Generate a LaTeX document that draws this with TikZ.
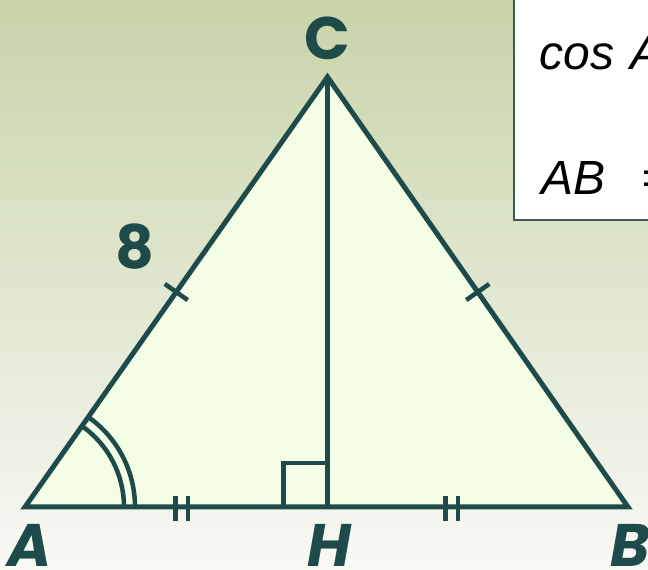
\documentclass[tikz,border=0pt]{standalone}
\usepackage{fontspec}
\setsansfont{Poppins}
\newfontfamily\boxfont{Liberation Sans}
\usetikzlibrary{calc}

\definecolor{edgecol}{HTML}{1E4A4A}
\definecolor{trifill}{HTML}{F4FDE6}
\definecolor{bgtop}{HTML}{C8D4A9}
\definecolor{bgmid}{HTML}{E4E6D5}
\definecolor{bgbot}{HTML}{F9F9F5}
\definecolor{boxline}{HTML}{3F5656}

\tikzset{
  side/.style={draw=edgecol,line width=5pt},
  tickline/.style={draw=edgecol,line width=4.5pt},
  vlabel/.style={text=edgecol,font=\sffamily\bfseries\fontsize{60}{60}\selectfont},
  boxtext/.style={anchor=base west,font=\boxfont\itshape\fontsize{48}{48}\selectfont}
}

\begin{document}
\begin{tikzpicture}[x=1pt,y=1pt]
\clip (0,0) rectangle (648,570);
\shade[top color=bgtop,middle color=bgmid,bottom color=bgbot] (0,0) rectangle (648,570);

% vertices
\coordinate (A) at (25,63);
\coordinate (B) at (628,63);
\coordinate (C) at (327.5,493);
\coordinate (H) at (327.5,63);

\fill[trifill] (A) -- (B) -- (C) -- cycle;

% angle at A
\draw[tickline] ($(A)+(99,0)$) arc[start angle=0,end angle=54.9,radius=99];
\draw[tickline] ($(A)+(110,0)$) arc[start angle=0,end angle=54.9,radius=110];

% right angle at H
\draw[tickline] ($(H)+(-44,0)$) |- ($(H)+(0,44)$);

% equal sides
\draw[tickline] ($(A)!0.5!(C)!14pt!90:(C)$) -- ($(A)!0.5!(C)!14pt!-90:(C)$);
\draw[tickline] ($(C)!0.5!(B)!14pt!90:(B)$) -- ($(C)!0.5!(B)!14pt!-90:(B)$);

% equal halves of the base
\foreach \x in {175.3,187.8,445.5,458}
    \draw[tickline] (\x,74) -- (\x,49);

\draw[side] (A) -- (B) -- (C) -- cycle;
\draw[side] (C) -- (H);

\node[vlabel] (lC) at (327,532) {C};
\node[vlabel] (l8) at (135,323) {8};
\node[vlabel,font=\sffamily\bfseries\itshape\fontsize{60}{60}\selectfont] (lA) at (30,25) {A};
\node[vlabel,font=\sffamily\bfseries\itshape\fontsize{60}{60}\selectfont] (lH) at (329,25) {H};
\node[vlabel,font=\sffamily\bfseries\itshape\fontsize{60}{60}\selectfont] (lB) at (630,25) {B};

% formula box
\draw[fill=white,draw=boxline,line width=2pt] (514,350) rectangle (700,600);
\node[boxtext] (cosA) at (536,500) {cos\hspace{16pt}A};
\node[boxtext] (ab) at (538,375) {AB\hspace{36pt}=};
\end{tikzpicture}
\end{document}
